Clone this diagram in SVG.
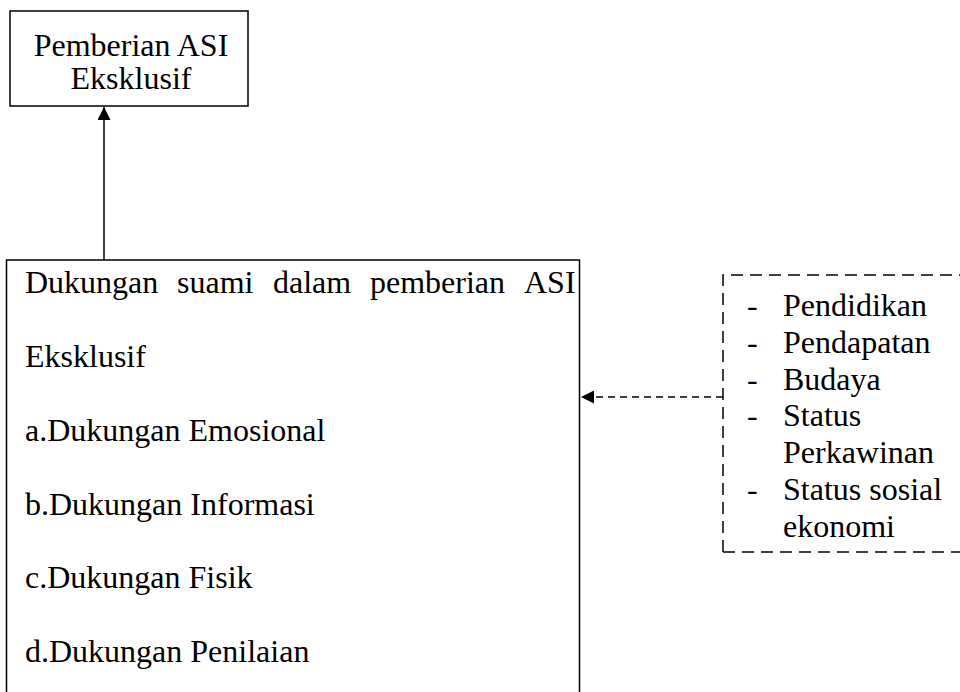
<svg xmlns="http://www.w3.org/2000/svg" width="960" height="692" viewBox="0 0 960 692">
<style>
text{font-family:"Liberation Serif","Times New Roman",serif;font-size:32px;fill:#000}
.box{fill:#fff;stroke:#000;stroke-width:1.5}
.dash{fill:none;stroke:#000;stroke-width:1.5;stroke-dasharray:12 7}
</style>
<defs>
<marker id="ah" viewBox="0 0 10 10" refX="10" refY="5" markerWidth="15" markerHeight="13" markerUnits="userSpaceOnUse" orient="auto"><path d="M0,0 L10,5 L0,10 z" fill="#000"/></marker>
</defs>
<rect width="960" height="692" fill="#fff"/>
<g id="connectors">
<line x1="104" y1="260" x2="104" y2="107" stroke="#000" stroke-width="1.5" marker-end="url(#ah)"/>
<line x1="723" y1="397" x2="581" y2="397" stroke="#000" stroke-width="1.5" stroke-dasharray="7 5" marker-end="url(#ah)"/>
</g>
<g id="asi">
<rect class="box" x="10" y="11" width="238" height="95"/>
<text x="131" y="56" text-anchor="middle">Pemberian ASI</text>
<text x="131" y="89" text-anchor="middle">Eksklusif</text>
</g>
<g id="dukungan">
<rect class="box" x="6.5" y="260" width="573" height="450"/>
<text y="293"><tspan x="25">Dukungan</tspan><tspan x="177">suami</tspan><tspan x="273">dalam</tspan><tspan x="370">pemberian</tspan><tspan x="524">ASI</tspan></text>
<text x="25" y="367">Eksklusif</text>
<text x="25" y="441">a.Dukungan Emosional</text>
<text x="25" y="515">b.Dukungan Informasi</text>
<text x="25" y="588">c.Dukungan Fisik</text>
<text x="25" y="662">d.Dukungan Penilaian</text>
</g>
<g id="faktor">
<path class="dash" d="M723,552 V275 H965 M723,552 H965"/>
<text x="747" y="316">-</text><text x="783" y="316">Pendidikan</text>
<text x="747" y="353">-</text><text x="783" y="353">Pendapatan</text>
<text x="747" y="390">-</text><text x="783" y="390">Budaya</text>
<text x="747" y="426">-</text><text x="783" y="426">Status</text>
<text x="783" y="463">Perkawinan</text>
<text x="747" y="500">-</text><text x="783" y="500">Status sosial</text>
<text x="783" y="537">ekonomi</text>
</g>
</svg>
